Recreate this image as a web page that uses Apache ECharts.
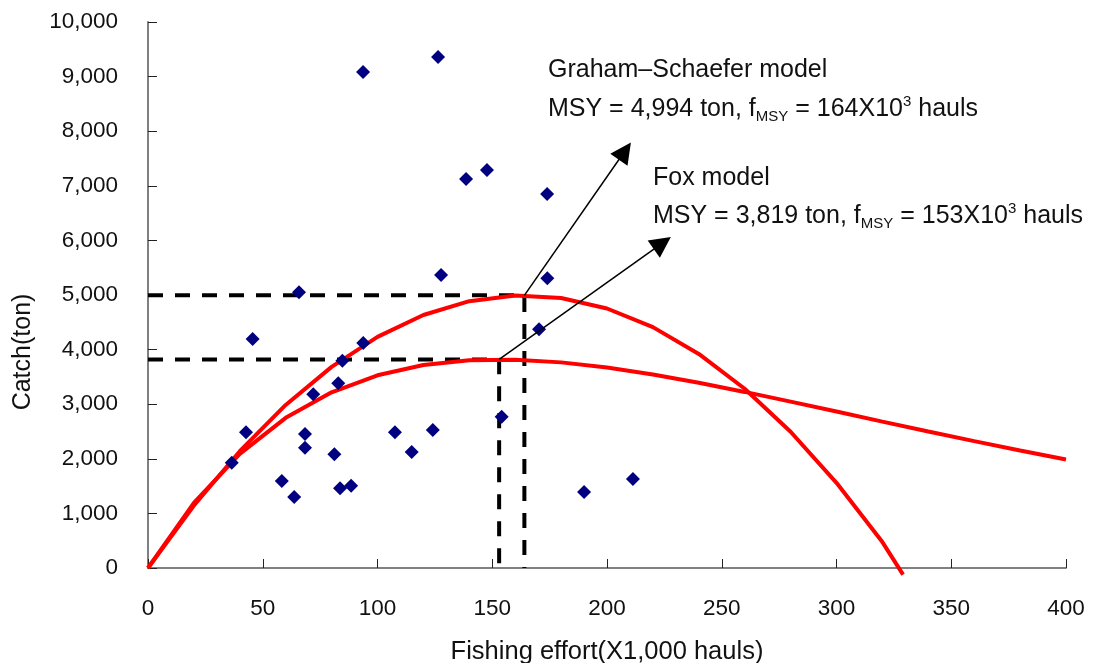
<!DOCTYPE html>
<html>
<head>
<meta charset="utf-8">
<title>Catch vs fishing effort – surplus production models</title>
<script src="https://cdn.jsdelivr.net/npm/echarts@6/dist/echarts.min.js"></script>
<style>
  html, body { margin: 0; padding: 0; background: #fff; }
  #chart { width: 1096px; height: 663px; }
</style>
</head>
<body>
<div id="chart"></div>
<script>
// Observed catch (ton) against fishing effort (x1,000 hauls)
const effortObs = [36.5, 42.7, 45.6, 58.3, 63.7, 65.8, 68.4, 68.4, 72.0, 81.2, 82.9, 83.7, 84.7, 88.5,
  93.8, 93.7, 107.6, 114.9, 124.1, 126.4, 127.7, 138.6, 147.7, 154.1, 170.4, 173.9, 174.0, 190.0, 211.3];
const catchObs = [1929, 2485, 4194, 1593, 1300, 5049, 2454, 2203, 3181, 2082, 3383, 1460, 3797, 1507,
  4121, 9084, 2485, 2125, 2527, 9359, 5366, 7125, 7289, 2771, 4372, 6850, 5306, 1392, 1630];

// Graham-Schaefer equilibrium curve
const gsEffort = [0, 20, 40, 60, 80, 100, 120, 140, 160, 180, 200, 220, 240, 260, 280, 300, 320, 329];
const gsCatch = [0, 1144, 2139, 2986, 3684, 4233, 4634, 4887, 4991, 4946, 4753, 4412, 3921, 3283, 2496, 1560, 475, -120];

// Fox equilibrium curve
const foxEffort = [0, 20, 40, 60, 80, 100, 120, 140, 160, 180, 200, 220, 240, 260, 280, 300, 320, 340, 360, 380, 400];
const foxCatch = [0, 1191, 2090, 2750, 3217, 3529, 3717, 3805, 3815, 3766, 3672, 3544, 3393, 3225, 3047, 2865, 2681, 2500, 2323, 2151, 1987];

// MSY reference points
const gsMsy = 4994, gsFmsy = 164;
const foxMsy = 3819, foxFmsy = 153;

// Annotation arrows: [start, arrowhead centre] in data units
const gsArrow = [[gsFmsy, gsMsy], [207.8, 7637]];
const foxArrow = [[foxFmsy, foxMsy], [224.1, 5952]];

// Axis ticks
const xTicks = [0, 50, 100, 150, 200, 250, 300, 350, 400];
const yTicks = [0, 1000, 2000, 3000, 4000, 5000, 6000, 7000, 8000, 9000, 10000];

const FONT = '"Liberation Sans", Arial, sans-serif';
const INK = '#111';
const zip = (a, b) => a.map((v, i) => [v, b[i]]);

const chart = echarts.init(document.getElementById('chart'), null, { renderer: 'canvas' });

const noteStyle = { fontFamily: FONT, fontSize: 25, fill: INK, verticalAlign: 'middle' };
const rich = {
  t: { fontFamily: FONT, fontSize: 25, fill: INK, lineHeight: 30 },
  s: { fontFamily: FONT, fontSize: 15, fill: INK, verticalAlign: 'bottom' },
  p: { fontFamily: FONT, fontSize: 15, fill: INK, verticalAlign: 'top' }
};
const msyLine = (msy, f) => `{t|MSY = ${msy.toLocaleString('en-US')} ton, f}{s|MSY}{t| = ${f}X10}{p|3}{t| hauls}`;

chart.setOption({
  animation: false,
  backgroundColor: '#fff',
  grid: { left: 148, right: 30, top: 22, bottom: 95, containLabel: false },
  xAxis: {
    type: 'value', min: xTicks[0], max: xTicks[xTicks.length - 1], interval: 50,
    splitLine: { show: false },
    axisLine: { lineStyle: { color: '#808080', width: 2 } },
    axisTick: { inside: true, length: 9, lineStyle: { color: '#222', width: 1 } },
    axisLabel: { color: INK, fontFamily: FONT, fontSize: 22.5, margin: 29 }
  },
  yAxis: {
    type: 'value', min: yTicks[0], max: yTicks[yTicks.length - 1], interval: 1000,
    splitLine: { show: false },
    axisLine: { show: true, lineStyle: { color: '#808080', width: 2 } },
    axisTick: { show: true, inside: true, length: 9, lineStyle: { color: '#222', width: 1 } },
    axisLabel: {
      color: INK, fontFamily: FONT, fontSize: 22.5, margin: 30, padding: [3, 0, 0, 0],
      formatter: v => v.toLocaleString('en-US')
    }
  },
  series: [
    {
      name: 'GS MSY guide', type: 'line', z: 1, symbol: 'none', silent: true,
      data: [[0, gsMsy], [gsFmsy, gsMsy], [gsFmsy, 0]],
      lineStyle: { color: '#000', width: 4, type: [15, 12] }
    },
    {
      name: 'Fox MSY guide', type: 'line', z: 1, symbol: 'none', silent: true,
      data: [[0, foxMsy], [foxFmsy, foxMsy], [foxFmsy, 0]],
      lineStyle: { color: '#000', width: 4, type: [15, 12] }
    },
    {
      name: 'Graham-Schaefer', type: 'line', z: 2, symbol: 'none', clip: false,
      data: zip(gsEffort, gsCatch),
      lineStyle: { color: '#ff0000', width: 4 }
    },
    {
      name: 'Fox', type: 'line', z: 2, symbol: 'none',
      data: zip(foxEffort, foxCatch),
      lineStyle: { color: '#ff0000', width: 4 }
    },
    {
      name: 'Observed', type: 'scatter', z: 3, symbol: 'diamond', symbolSize: 14,
      data: zip(effortObs, catchObs),
      itemStyle: { color: '#000080', opacity: 1 }
    },
    {
      name: 'Arrows', type: 'lines', coordinateSystem: 'cartesian2d', z: 4,
      symbol: ['none', 'triangle'], symbolSize: [19, 21],
      lineStyle: { color: '#000', width: 1.5, opacity: 1 },
      itemStyle: { color: '#000' },
      data: [{ coords: gsArrow }, { coords: foxArrow }]
    }
  ],
  graphic: [
    { type: 'text', x: 548, y: 70, style: Object.assign({ text: 'Graham\u2013Schaefer model' }, noteStyle) },
    { type: 'text', x: 548, y: 109, style: { text: msyLine(gsMsy, gsFmsy), rich: rich, verticalAlign: 'middle' } },
    { type: 'text', x: 653, y: 178, style: Object.assign({ text: 'Fox model' }, noteStyle) },
    { type: 'text', x: 653, y: 216, style: { text: msyLine(foxMsy, foxFmsy), rich: rich, verticalAlign: 'middle' } },
    {
      type: 'text', x: 23, y: 352, rotation: Math.PI / 2,
      style: { text: 'Catch(ton)', fontFamily: FONT, fontSize: 25, fill: INK, align: 'center', verticalAlign: 'middle' }
    },
    {
      type: 'text', x: 607, y: 652,
      style: { text: 'Fishing effort(X1,000 hauls)', fontFamily: FONT, fontSize: 25.5, fill: INK, align: 'center', verticalAlign: 'middle' }
    }
  ]
});
</script>
</body>
</html>
